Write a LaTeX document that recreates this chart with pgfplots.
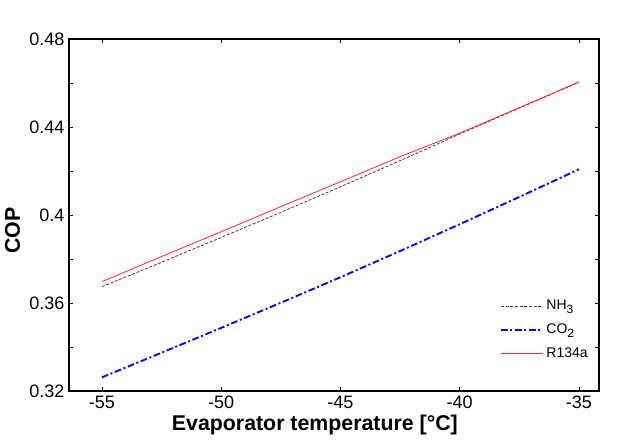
\documentclass[border=0pt]{standalone}
\usepackage{fontspec}
\setmainfont{Liberation Sans}
\usepackage{pgfplots}
\pgfplotsset{compat=1.18}
\newcommand{\sub}[1]{\raisebox{-0.45ex}{\fontsize{9}{10}\selectfont #1}}
\begin{document}
\begin{tikzpicture}
\begin{axis}[
  name=ax,
  scale only axis,
  width=397.5pt, height=264pt,
  xmin=-56.38, xmax=-34.16,
  ymin=0.32, ymax=0.48,
  xtick={-55,-50,-45,-40,-35},
  ytick={0.32,0.36,0.4,0.44,0.48},
  minor ytick={0.34,0.38,0.42,0.46},
  tick align=inside,
  major tick length=3pt,
  minor tick length=3pt,
  axis line style={line width=1pt},
  tick style={black, line width=0.5pt},
  /pgf/number format/assume math mode=true,
  ticklabel style={font=\fontsize{13.5}{15}\selectfont},
  xlabel={Evaporator temperature [°C]},
  ylabel={COP},
  label style={font=\fontsize{16}{18}\selectfont\bfseries},
  xlabel style={at={(ticklabel cs:0.464)}, yshift=2pt},
  ylabel style={at={(ticklabel cs:0.455)}, yshift=0pt},
  legend style={at={(0.813,0.266)}, anchor=north west, draw=none, fill=none,
    font=\fontsize{10.5}{12}\selectfont, row sep=5pt, inner sep=0pt},
  legend cell align=left,
  legend image code/.code={\draw[#1] (0cm,0cm) -- (1.1cm,0cm);},
]
\addplot[color={rgb,255:red,60;green,60;blue,60}, dash pattern=on 2.2pt off 1.3pt, line width=0.6pt] coordinates {
(-55,0.3674) (-52.5,0.3785) (-50,0.3898) (-47.5,0.4012) (-45,0.4128)
(-42.5,0.4247) (-40,0.4368) (-37.5,0.4486) (-35,0.4603)};
\addlegendentry{NH\sub{3}}
\addplot[color={rgb,255:red,0;green,0;blue,255}, dash pattern=on 5pt off 2pt on 1.5pt off 2pt, line width=1.4pt] coordinates {
(-55,0.3262) (-52.5,0.3374) (-50,0.3487) (-47.5,0.3601) (-45,0.3717)
(-42.5,0.3836) (-40,0.3958) (-37.5,0.4082) (-35,0.4208)};
\addlegendentry{CO\sub{2}}
\addplot[color={rgb,255:red,255;green,40;blue,40}, line width=0.6pt] coordinates {
(-55,0.3697) (-52.5,0.3811) (-50,0.3924) (-47.5,0.4038) (-45,0.4151)
(-42.5,0.4265) (-40,0.4372) (-37.5,0.4488) (-35,0.4605)};
\addlegendentry{R134a}
\end{axis}
\path ([shift={(-51.75pt,-39.75pt)}]ax.south west) rectangle ([shift={(30.75pt,29.25pt)}]ax.north east);
\end{tikzpicture}
\end{document}
